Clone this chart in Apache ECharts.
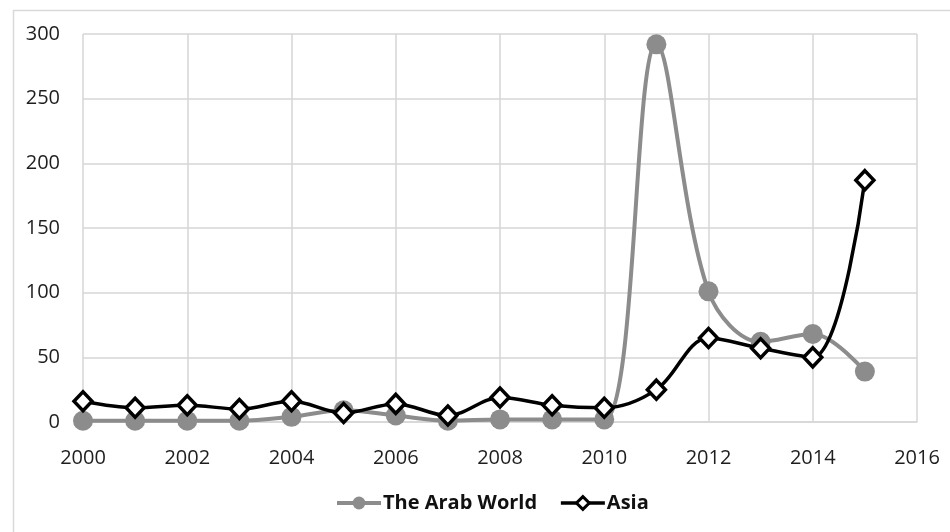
<!DOCTYPE html>
<html>
<head>
<meta charset="utf-8">
<script src="https://cdn.jsdelivr.net/npm/echarts@6/dist/echarts.min.js"></script>
<style>
  html, body { margin: 0; padding: 0; background: #fff; }
  #chart { width: 950px; height: 532px; }
</style>
</head>
<body>
<div id="chart"></div>
<script>
// Yearly counts for the two regions
const years = [2000, 2001, 2002, 2003, 2004, 2005, 2006, 2007, 2008, 2009, 2010, 2011, 2012, 2013, 2014, 2015];
const arabWorld = [1, 1, 1, 1, 4, 9, 5, 1, 2, 2, 2, 292, 101, 62, 68, 39];
const asia = [16, 11, 13, 10, 16, 7, 14, 5, 19, 13, 11, 25, 65, 57, 50, 187];
const seriesNames = ['The Arab World', 'Asia'];

const toPairs = vals => years.map((y, i) => [y, vals[i]]);

const font = 'Open Sans, Noto Sans, sans-serif';
const gridColor = '#d6d6d6';
const gray = '#8c8c8c';

const chart = echarts.init(document.getElementById('chart'), null, { renderer: 'canvas' });
chart.setOption({
  animation: false,
  backgroundColor: '#fff',
  graphic: [{
    type: 'rect',
    left: 11, top: 8,
    shape: { width: 960, height: 540 },
    style: { fill: 'none', stroke: '#d9d9d9', lineWidth: 1.5 },
    silent: true,
    z: -10
  }],
  grid: {
    left: 83, top: 34, right: 33, bottom: 110,
    containLabel: false,
    outerBoundsMode: 'none'
  },
  xAxis: {
    type: 'value',
    min: 2000, max: 2016, interval: 2,
    axisLine: { show: true, lineStyle: { color: gridColor, width: 1.5 } },
    axisTick: { show: false },
    splitLine: { show: true, lineStyle: { color: gridColor, width: 1.5 } },
    axisLabel: {
      color: '#1e1e1e', fontFamily: font, fontSize: 20, margin: 26,
      formatter: v => String(v)
    }
  },
  yAxis: {
    type: 'value',
    min: 0, max: 300, interval: 50,
    axisLine: { show: false },
    axisTick: { show: false },
    splitLine: { show: true, lineStyle: { color: gridColor, width: 1.5 } },
    axisLabel: { color: '#1e1e1e', fontFamily: font, fontSize: 20, margin: 23 }
  },
  legend: {
    left: 330, top: 488,
    itemWidth: 44, itemHeight: 16, itemGap: 22,
    textStyle: { color: '#111', fontFamily: font, fontSize: 20, fontWeight: 'bold', padding: [0, 0, 0, -3] },
    data: [
      {
        name: seriesNames[0],
        itemStyle: { color: gray, borderWidth: 0 },
        lineStyle: { color: gray, width: 4 }
      },
      {
        name: seriesNames[1],
        itemStyle: { color: '#ffffff', borderColor: '#000000', borderWidth: 3 },
        lineStyle: { color: '#000000', width: 3.5 }
      }
    ]
  },
  series: [
    {
      name: seriesNames[0],
      type: 'line',
      data: toPairs(arabWorld),
      smooth: 0.35,
      clip: true,
      symbol: 'circle',
      symbolSize: 20,
      itemStyle: { color: gray },
      lineStyle: { color: gray, width: 4 },
      z: 2
    },
    {
      name: seriesNames[1],
      type: 'line',
      data: toPairs(asia),
      smooth: 0.35,
      clip: true,
      symbol: 'diamond',
      symbolSize: [18, 19],
      itemStyle: { color: '#ffffff', borderColor: '#000000', borderWidth: 3.5 },
      lineStyle: { color: '#000000', width: 3.5 },
      z: 3
    }
  ]
});
</script>
</body>
</html>
